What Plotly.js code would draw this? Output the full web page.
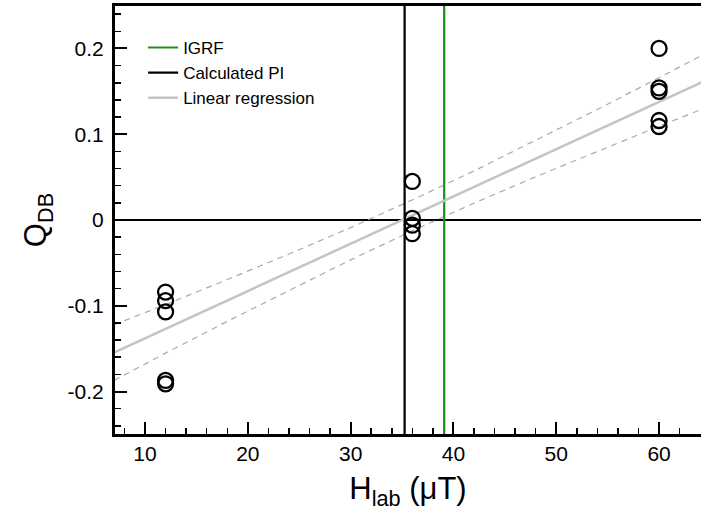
<!DOCTYPE html>
<html>
<head>
<meta charset="utf-8">
<script src="https://cdn.plot.ly/plotly-3.0.1.min.js"></script>
<style>html,body{margin:0;padding:0;background:#fff;}#chart{width:701px;height:522px;}</style>
</head>
<body>
<div id="chart"></div>
<script>
// Measured data
const hLab = [12, 12, 12, 12, 12, 36, 36, 36, 36, 60, 60, 60, 60, 60];
const qDB = [-0.084, -0.094, -0.107, -0.187, -0.191, 0.045, 0.002, -0.006, -0.016, 0.200, 0.154, 0.150, 0.116, 0.109];

// Reference field lines
const igrfValue = [39.1];
const piValue = [35.25];
const lineSpan = [-1, 1];

// Linear regression and confidence band
const regX = [0, 70];
const regY = [-0.193, 0.1927];
const bandX = [7, 12, 18, 24, 30, 36, 42, 48, 54, 60, 65];
const bandUpper = [-0.122, -0.0986, -0.0694, -0.0397, -0.0089, 0.0234, 0.0572, 0.0926, 0.1289, 0.1659, 0.1972];
const bandLower = [-0.187, -0.1552, -0.1182, -0.0819, -0.0465, -0.0126, 0.0196, 0.0504, 0.0801, 0.1093, 0.1332];

// Axis ticks
const xTicks = [10, 20, 30, 40, 50, 60];
const yTicks = [-0.2, -0.1, 0, 0.1, 0.2];
const yTickText = ['-0.2', '-0.1', '0', '0.1', '0.2'];

const FONT = 'Liberation Sans, Arial, Helvetica, sans-serif';

const traces = [
  {x: bandX, y: bandUpper, mode: 'lines', line: {color: '#aaaaaa', width: 1.2, dash: '6px,5px'}, showlegend: false, hoverinfo: 'skip'},
  {x: bandX, y: bandLower, mode: 'lines', line: {color: '#aaaaaa', width: 1.2, dash: '6px,5px'}, showlegend: false, hoverinfo: 'skip'},
  {x: [igrfValue[0], igrfValue[0]], y: lineSpan, mode: 'lines', name: 'IGRF', line: {color: '#1a8f1a', width: 2.2}},
  {x: [piValue[0], piValue[0]], y: lineSpan, mode: 'lines', name: 'Calculated PI', line: {color: '#000000', width: 2.2}},
  {x: regX, y: regY, mode: 'lines', name: 'Linear regression', line: {color: '#c4c4c4', width: 2.5}},
  {x: hLab, y: qDB, mode: 'markers', showlegend: false,
   marker: {symbol: 'circle-open', size: 15, color: '#000000', line: {width: 2.3, color: '#000000'}}}
];

const layout = {
  width: 701, height: 522,
  margin: {l: 115, r: 0, t: 6, b: 88, pad: 0},
  paper_bgcolor: '#ffffff', plot_bgcolor: '#ffffff',
  font: {family: FONT, color: '#000000'},
  showlegend: true,
  legend: {x: 0.048, y: 0.944, xanchor: 'left', yanchor: 'top', bgcolor: 'rgba(0,0,0,0)',
           font: {size: 17, family: FONT}, borderwidth: 0},
  xaxis: {
    range: [7.08, 64.08], showgrid: false, zeroline: false,
    showline: true, linecolor: '#000', linewidth: 3, mirror: true,
    ticks: 'inside', ticklen: 12, tickwidth: 2, tickcolor: '#000',
    tickvals: xTicks, ticklabelstandoff: -1,
    minor: {dtick: 2, tick0: 0, ticks: 'inside', ticklen: 6, tickwidth: 1.5, tickcolor: '#000'},
    tickfont: {size: 21, family: FONT},
    title: {text: 'H<sub>lab</sub> (μT)', font: {size: 31, family: FONT}, standoff: 14}
  },
  yaxis: {
    range: [-0.2495, 0.2495], showgrid: false,
    zeroline: true, zerolinecolor: '#000', zerolinewidth: 2,
    showline: true, linecolor: '#000', linewidth: 3, mirror: false,
    ticks: 'inside', ticklen: 12, tickwidth: 2, tickcolor: '#000',
    tickvals: yTicks, ticktext: yTickText, ticklabelstandoff: 4,
    minor: {dtick: 0.02, tick0: 0, ticks: 'inside', ticklen: 6, tickwidth: 1.5, tickcolor: '#000'},
    tickfont: {size: 21, family: FONT},
    title: {text: 'Q<sub>DB</sub>', font: {size: 31, family: FONT}, standoff: 12}
  }
};

Plotly.newPlot('chart', traces, layout, {staticPlot: true, displayModeBar: false});
</script>
</body>
</html>
